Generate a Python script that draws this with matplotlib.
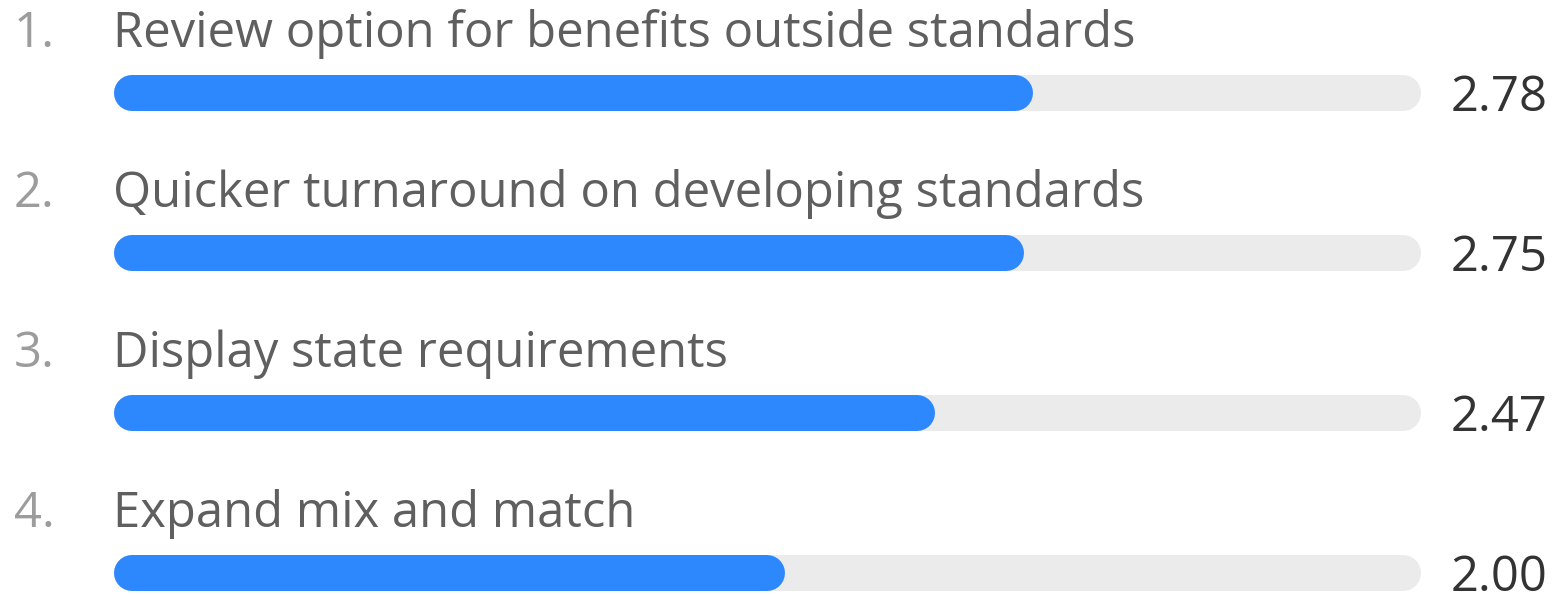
import matplotlib.pyplot as plt

labels = ["Review option for benefits outside standards",
          "Quicker turnaround on developing standards",
          "Display state requirements",
          "Expand mix and match"]
values = [2.78, 2.75, 2.47, 2.00]
max_value = 4.0

W, H, DPI = 1558, 595, 100
fig = plt.figure(figsize=(W / DPI, H / DPI), dpi=DPI)
ax = fig.add_axes([0, 0, 1, 1])
ax.set_xlim(0, W)
ax.set_ylim(H, 0)
ax.axis("off")

plt.rcParams["font.family"] = ["Open Sans", "DejaVu Sans"]

track_left, track_right = 114, 1421
bar_h = 36
r = bar_h / 2
lw = bar_h * 72 / DPI
x0 = track_left + r
x1 = track_right - r

for i, (lab, v) in enumerate(zip(labels, values)):
    yc = 93 + 160 * i
    # background track
    ax.plot([x0, x1], [yc, yc], color="#ebebeb", lw=lw, solid_capstyle="round")
    # value bar
    xe = x0 + (x1 - x0) * v / max_value
    ax.plot([x0, xe], [yc, yc], color="#2d87fd", lw=lw, solid_capstyle="round")
    ax.text(14, yc - 46, f"{i + 1}.", fontsize=35.3, color="#9c9c9c",
            ha="left", va="baseline")
    ax.text(113, yc - 46, lab, fontsize=35.3, color="#5f5f5f",
            ha="left", va="baseline")
    ax.text(1548, yc + 18, f"{v:.2f}", fontsize=35.3, color="#333333",
            ha="right", va="baseline")

fig.savefig("out.png", dpi=DPI)
